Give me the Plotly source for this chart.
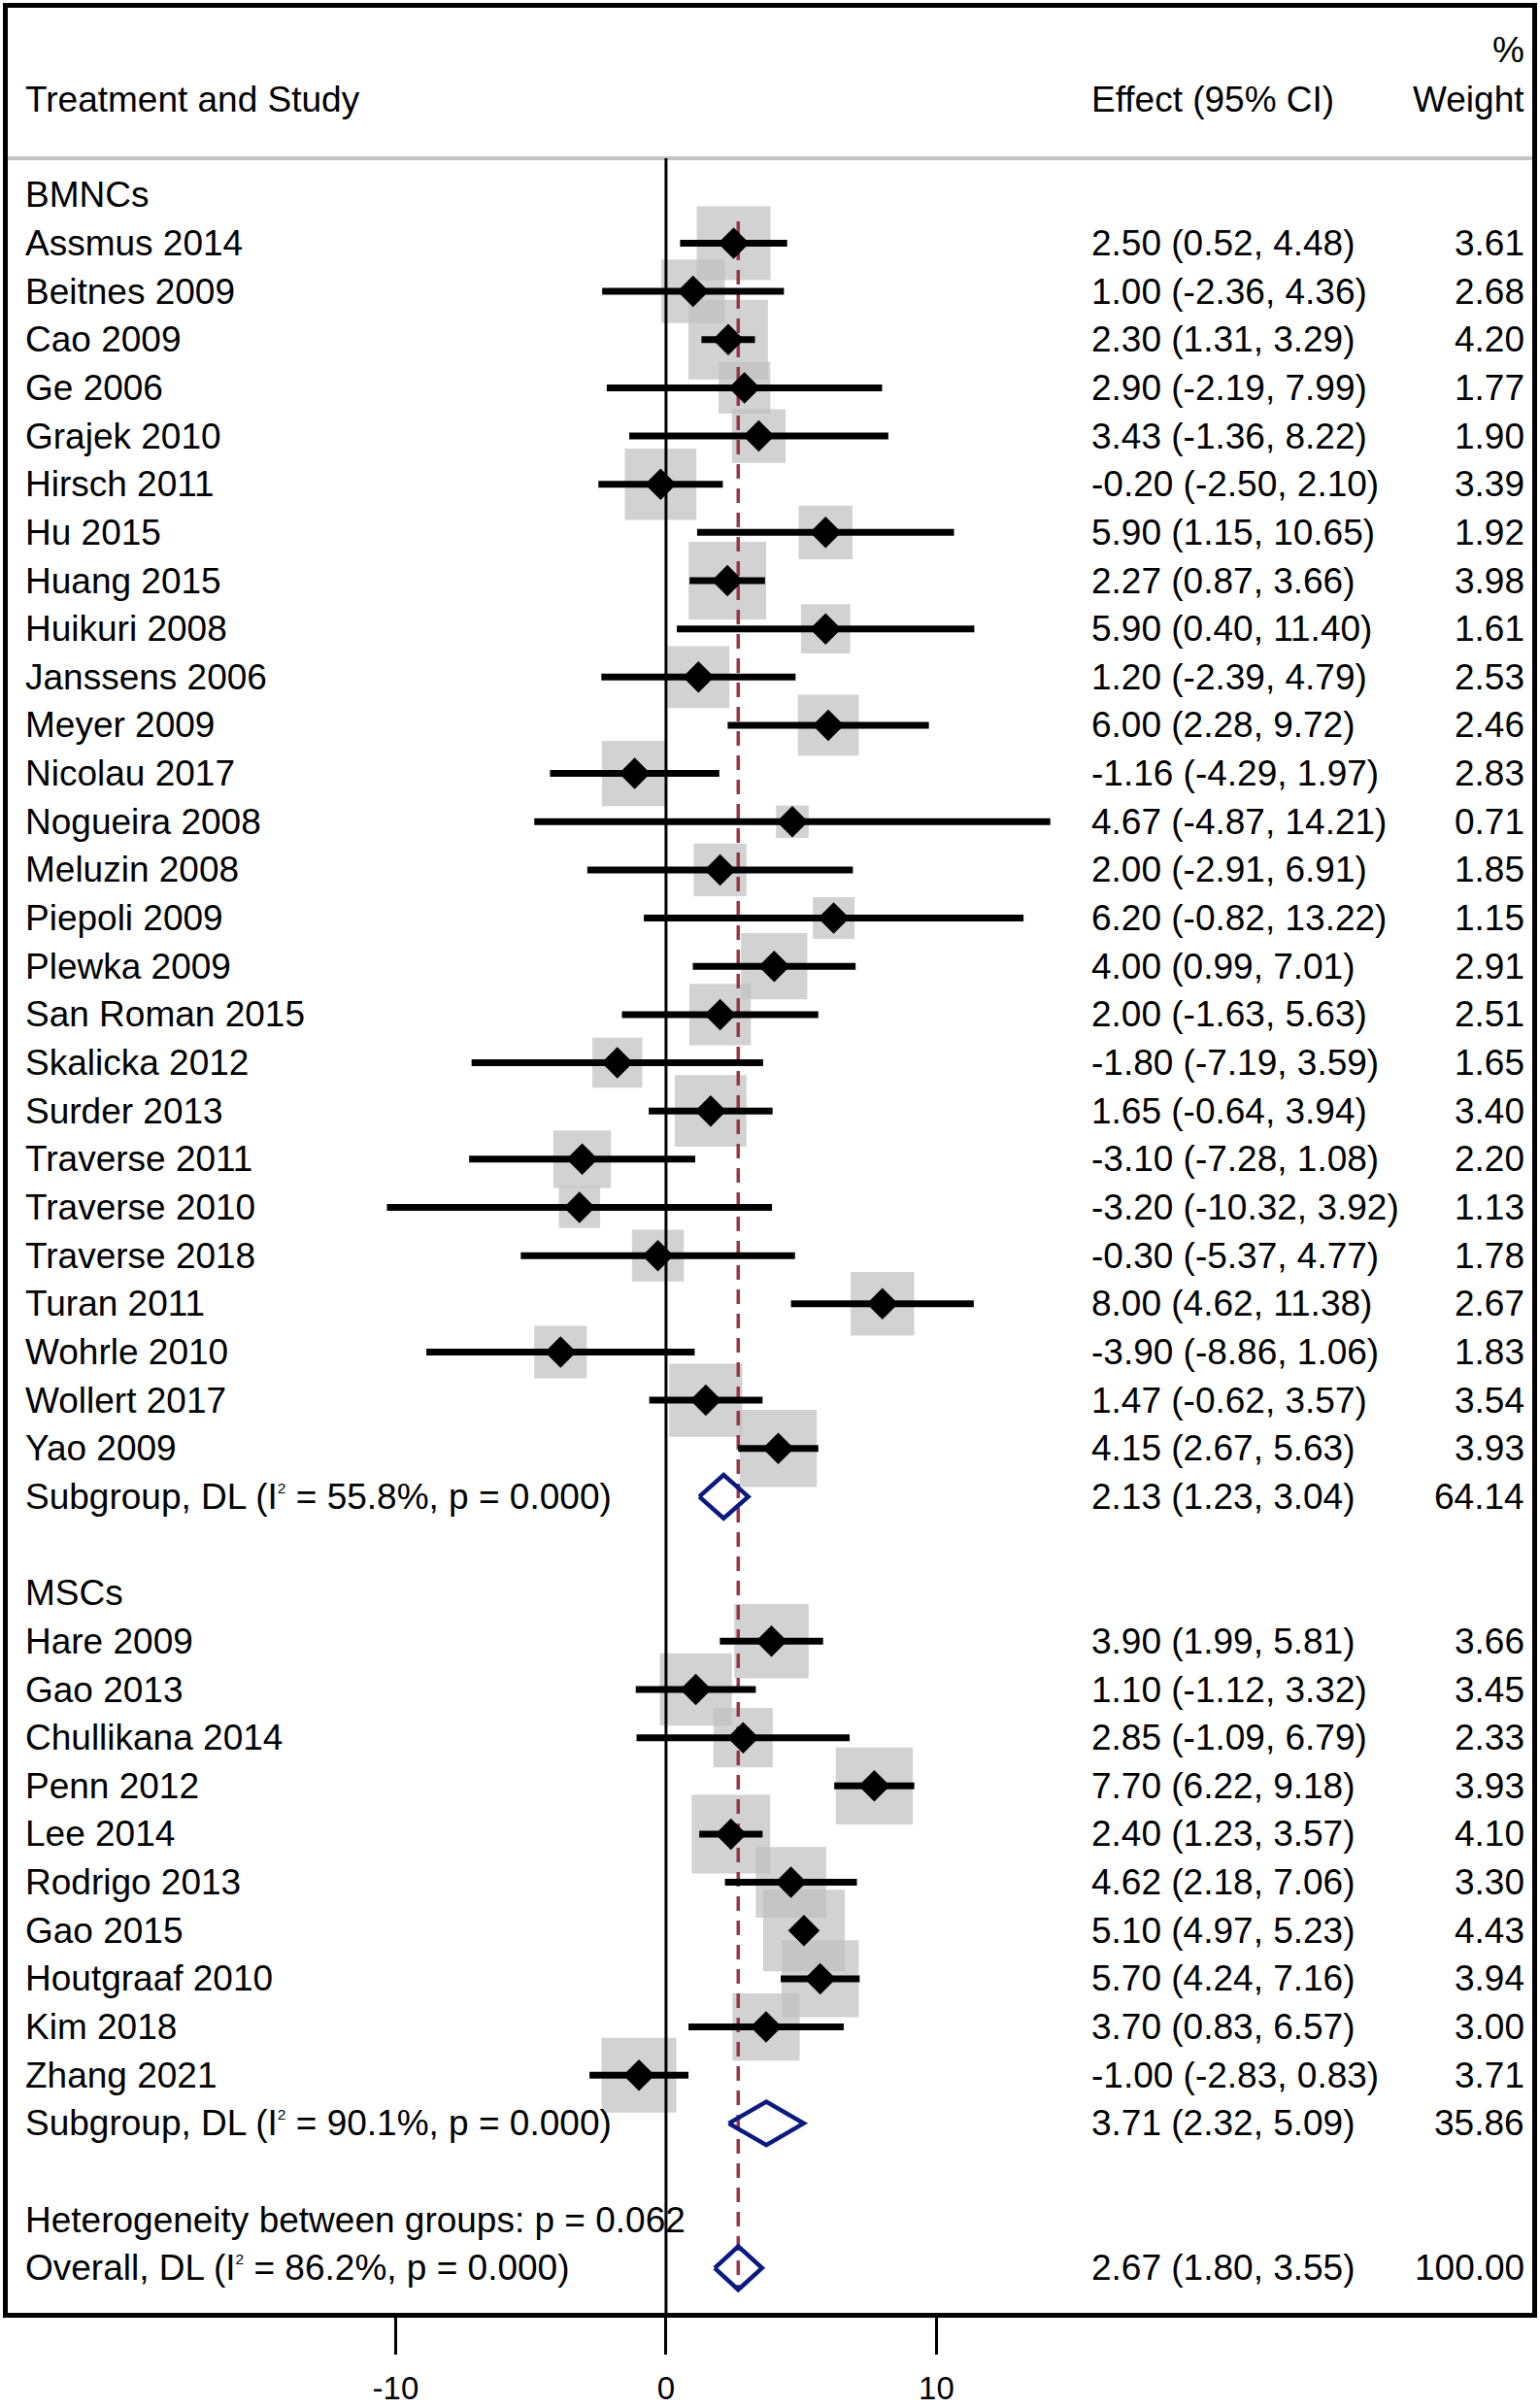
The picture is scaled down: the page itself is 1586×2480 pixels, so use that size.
import math
import plotly.graph_objects as go

# ---------------- data ----------------
bmnc_names = ["Assmus 2014", "Beitnes 2009", "Cao 2009", "Ge 2006", "Grajek 2010", "Hirsch 2011",
              "Hu 2015", "Huang 2015", "Huikuri 2008", "Janssens 2006", "Meyer 2009", "Nicolau 2017",
              "Nogueira 2008", "Meluzin 2008", "Piepoli 2009", "Plewka 2009", "San Roman 2015",
              "Skalicka 2012", "Surder 2013", "Traverse 2011", "Traverse 2010", "Traverse 2018",
              "Turan 2011", "Wohrle 2010", "Wollert 2017", "Yao 2009"]
bmnc_est = [2.50, 1.00, 2.30, 2.90, 3.43, -0.20, 5.90, 2.27, 5.90, 1.20, 6.00, -1.16, 4.67, 2.00,
            6.20, 4.00, 2.00, -1.80, 1.65, -3.10, -3.20, -0.30, 8.00, -3.90, 1.47, 4.15]
bmnc_lo = [0.52, -2.36, 1.31, -2.19, -1.36, -2.50, 1.15, 0.87, 0.40, -2.39, 2.28, -4.29, -4.87, -2.91,
           -0.82, 0.99, -1.63, -7.19, -0.64, -7.28, -10.32, -5.37, 4.62, -8.86, -0.62, 2.67]
bmnc_hi = [4.48, 4.36, 3.29, 7.99, 8.22, 2.10, 10.65, 3.66, 11.40, 4.79, 9.72, 1.97, 14.21, 6.91,
           13.22, 7.01, 5.63, 3.59, 3.94, 1.08, 3.92, 4.77, 11.38, 1.06, 3.57, 5.63]
bmnc_wt = [3.61, 2.68, 4.20, 1.77, 1.90, 3.39, 1.92, 3.98, 1.61, 2.53, 2.46, 2.83, 0.71, 1.85,
           1.15, 2.91, 2.51, 1.65, 3.40, 2.20, 1.13, 1.78, 2.67, 1.83, 3.54, 3.93]

msc_names = ["Hare 2009", "Gao 2013", "Chullikana 2014", "Penn 2012", "Lee 2014", "Rodrigo 2013",
             "Gao 2015", "Houtgraaf 2010", "Kim 2018", "Zhang 2021"]
msc_est = [3.90, 1.10, 2.85, 7.70, 2.40, 4.62, 5.10, 5.70, 3.70, -1.00]
msc_lo = [1.99, -1.12, -1.09, 6.22, 1.23, 2.18, 4.97, 4.24, 0.83, -2.83]
msc_hi = [5.81, 3.32, 6.79, 9.18, 3.57, 7.06, 5.23, 7.16, 6.57, 0.83]
msc_wt = [3.66, 3.45, 2.33, 3.93, 4.10, 3.30, 4.43, 3.94, 3.00, 3.71]

group_names = ["BMNCs", "MSCs"]
sub_est = [2.13, 3.71]
sub_lo = [1.23, 2.32]
sub_hi = [3.04, 5.09]
sub_wt = [64.14, 35.86]
sub_i2 = [55.8, 90.1]
sub_p = [0.000, 0.000]

overall_est = 2.67
overall_lo = 1.80
overall_hi = 3.55
overall_wt = 100.00
overall_i2 = 86.2
overall_p = 0.000
het_between_p = 0.062

x_ticks = [-10, 0, 10]
x_tick_labels = ["-10", "0", "10"]

# ---------------- layout constants ----------------
FONT = "Liberation Sans, Arial, sans-serif"
FS = 37
X_LABEL = -23.75      # study label column (data units)
X_EFFECT = 15.65      # effect column
X_WEIGHT = 31.8       # weight column (right aligned)
XR = [-24.34, 32.03]
YR = [43.93, -3.883]
HDR_LINE = -0.76
BOX_COLOR = "#bfbfbf"
NAVY = "#0b1a80"
DASH_COLOR = "#9b3446"

groups = [
    (bmnc_names, bmnc_est, bmnc_lo, bmnc_hi, bmnc_wt),
    (msc_names, msc_est, msc_lo, msc_hi, msc_wt),
]

st_rows, st_est, st_lo, st_hi, st_wt = [], [], [], [], []
annos = []
pooled = []  # (row, est, lo, hi)


def txt(x, y, s, anchor="left", size=FS):
    annos.append(dict(x=x, y=y, xref="x", yref="y", text=s, showarrow=False,
                      xanchor=anchor, yanchor="middle",
                      font=dict(family=FONT, size=size, color="black")))


def eff(e, l, h):
    return f"{e:.2f} ({l:.2f}, {h:.2f})"


SUP2 = "<sup><span style='font-size:60%'>2</span></sup>"

r = 0
for gi, (names, est, lo, hi, wt) in enumerate(groups):
    txt(X_LABEL, r, group_names[gi])
    r += 1
    for n, e, l, h, w in zip(names, est, lo, hi, wt):
        st_rows.append(r); st_est.append(e); st_lo.append(l); st_hi.append(h); st_wt.append(w)
        txt(X_LABEL, r, n)
        txt(X_EFFECT, r, eff(e, l, h))
        txt(X_WEIGHT, r, f"{w:.2f}", anchor="right")
        r += 1
    txt(X_LABEL, r, f"Subgroup, DL (I{SUP2} = {sub_i2[gi]:.1f}%, p = {sub_p[gi]:.3f})")
    txt(X_EFFECT, r, eff(sub_est[gi], sub_lo[gi], sub_hi[gi]))
    txt(X_WEIGHT, r, f"{sub_wt[gi]:.2f}", anchor="right")
    pooled.append((r, sub_est[gi], sub_lo[gi], sub_hi[gi]))
    r += 2

txt(X_LABEL, r, f"Heterogeneity between groups: p = {het_between_p:.3f}")
r += 1
txt(X_LABEL, r, f"Overall, DL (I{SUP2} = {overall_i2:.1f}%, p = {overall_p:.3f})")
txt(X_EFFECT, r, eff(overall_est, overall_lo, overall_hi))
txt(X_WEIGHT, r, f"{overall_wt:.2f}", anchor="right")
pooled.append((r, overall_est, overall_lo, overall_hi))
overall_row = r

# header
txt(X_LABEL, -1.97, "Treatment and Study")
txt(X_EFFECT, -1.97, "Effect (95% CI)")
txt(X_WEIGHT, -1.97, "Weight", anchor="right")
txt(X_WEIGHT, -3.0, "%", anchor="right")

fig = go.Figure()

# weight boxes
fig.add_trace(go.Scatter(
    x=st_est, y=st_rows, mode="markers",
    marker=dict(symbol="square", size=[40 * math.sqrt(w) for w in st_wt],
                color=BOX_COLOR, line=dict(width=0)),
    hoverinfo="skip"))

# zero line
fig.add_trace(go.Scatter(x=[0, 0], y=[HDR_LINE, YR[0]], mode="lines",
                         line=dict(color="black", width=3), hoverinfo="skip"))

# overall dashed line
fig.add_trace(go.Scatter(x=[overall_est, overall_est], y=[0.55, overall_row + 0.45], mode="lines",
                         line=dict(color=DASH_COLOR, width=3.5, dash="15px,10px"), hoverinfo="skip"))

# CI lines
cx, cy = [], []
for rr, l, h in zip(st_rows, st_lo, st_hi):
    cx += [l, h, None]
    cy += [rr, rr, None]
fig.add_trace(go.Scatter(x=cx, y=cy, mode="lines", line=dict(color="black", width=7),
                         hoverinfo="skip"))

# point estimates
fig.add_trace(go.Scatter(x=st_est, y=st_rows, mode="markers",
                         marker=dict(symbol="diamond", size=25, color="black", line=dict(width=0)),
                         hoverinfo="skip"))

# pooled diamonds
dx, dy = [], []
H = 0.45
for rr, e, l, h in pooled:
    dx += [l, e, h, e, l, None]
    dy += [rr, rr - H, rr, rr + H, rr, None]
fig.add_trace(go.Scatter(x=dx, y=dy, mode="lines", line=dict(color=NAVY, width=4.5),
                         hoverinfo="skip"))

fig.update_layout(
    width=1586, height=2480,
    margin=dict(l=8, r=8, t=8, b=98, autoexpand=False),
    paper_bgcolor="white", plot_bgcolor="white",
    showlegend=False,
    annotations=annos,
    shapes=[dict(type="line", xref="paper", yref="y", x0=0, x1=1, y0=HDR_LINE, y1=HDR_LINE,
                 line=dict(color="#c4c4c4", width=4), layer="below")],
    font=dict(family=FONT, color="black"),
)
fig.update_xaxes(range=XR, showgrid=False, zeroline=False, automargin=False,
                 showline=True, mirror=True, linecolor="black", linewidth=5,
                 ticks="outside", ticklen=38, tickwidth=3, tickcolor="black",
                 ticklabelstandoff=6,
                 tickvals=x_ticks, ticktext=x_tick_labels,
                 tickfont=dict(family=FONT, size=33, color="black"))
fig.update_yaxes(range=YR, showgrid=False, zeroline=False, showticklabels=False, automargin=False,
                 showline=True, mirror=True, linecolor="black", linewidth=5, ticks="")

POST = ("document.documentElement.style.margin='0px';"
        "document.documentElement.style.overflow='hidden';"
        "document.body.style.margin='0px';"
        "document.body.style.overflow='hidden';")
fig.write_html("out.html", post_script=POST, config={"displayModeBar": False})
